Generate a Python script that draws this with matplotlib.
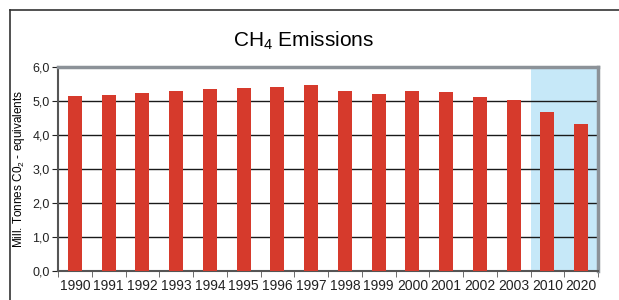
import matplotlib.pyplot as plt
from matplotlib.lines import Line2D

years = ["1990", "1991", "1992", "1993", "1994", "1995", "1996", "1997",
         "1998", "1999", "2000", "2001", "2002", "2003", "2010", "2020"]
emissions = [5.16, 5.19, 5.24, 5.30, 5.36, 5.38, 5.42, 5.48,
             5.30, 5.21, 5.30, 5.27, 5.13, 5.04, 4.69, 4.31]
projection_years = ["2010", "2020"]

bar_color = "#d63a2c"
shade_color = "#c6e8f8"

plt.rcParams['font.family'] = ['Liberation Sans', 'DejaVu Sans']
plt.rcParams['mathtext.fontset'] = 'custom'
plt.rcParams['mathtext.rm'] = 'Liberation Sans'

fig = plt.figure(figsize=(6.19, 3.0), dpi=100)
ax = fig.add_axes([58 / 619, 29 / 300, 540 / 619, 204 / 300])

x = list(range(len(years)))
ax.bar(x, emissions, width=0.41, color=bar_color, zorder=3)

# shaded projection area
first = years.index(projection_years[0])
ax.axvspan(first - 0.5, len(years) - 0.5, color=shade_color, zorder=0, lw=0)

ax.set_xlim(-0.5, len(years) - 0.5)
ax.set_ylim(0, 6)
ax.set_yticks([0, 1, 2, 3, 4, 5, 6])
ax.set_yticklabels([f"{v:.1f}".replace(".", ",") for v in range(7)])
for v in range(1, 6):
    ax.axhline(v, color="#1a1a1a", lw=1.0, zorder=1)

ax.set_xticks(x)
ax.set_xticklabels(years)
ax.set_xticks([i - 0.5 for i in range(len(years) + 1)], minor=True)
ax.tick_params(axis="x", which="major", length=0, labelsize=10, pad=6, colors="#222222")
ax.tick_params(axis="x", which="minor", length=4, direction="out", color="#555555")
ax.tick_params(axis="y", length=4, direction="out", labelsize=9, colors="#222222", pad=2)

for side in ["left", "bottom"]:
    ax.spines[side].set_color("#555555")
    ax.spines[side].set_linewidth(1.5)
for side in ["top", "right"]:
    ax.spines[side].set_color("#8c9298")
    ax.spines[side].set_linewidth(2.5)

ax.set_ylabel("Mill. Tonnes C0$_2$ - equivalents", fontsize=8.5)
ax.yaxis.set_label_coords(-0.058, 0.5)
fig.text(0.49, 0.865, "CH$_4$ Emissions", ha="center", va="center", fontsize=15)

# outer frame
fig.add_artist(Line2D([10 / 619, 10 / 619], [0, 1 - 10 / 300], color="#333333", lw=1.2))
fig.add_artist(Line2D([10 / 619, 1], [1 - 10 / 300, 1 - 10 / 300], color="#333333", lw=1.2))

fig.savefig("out.png", dpi=100)
